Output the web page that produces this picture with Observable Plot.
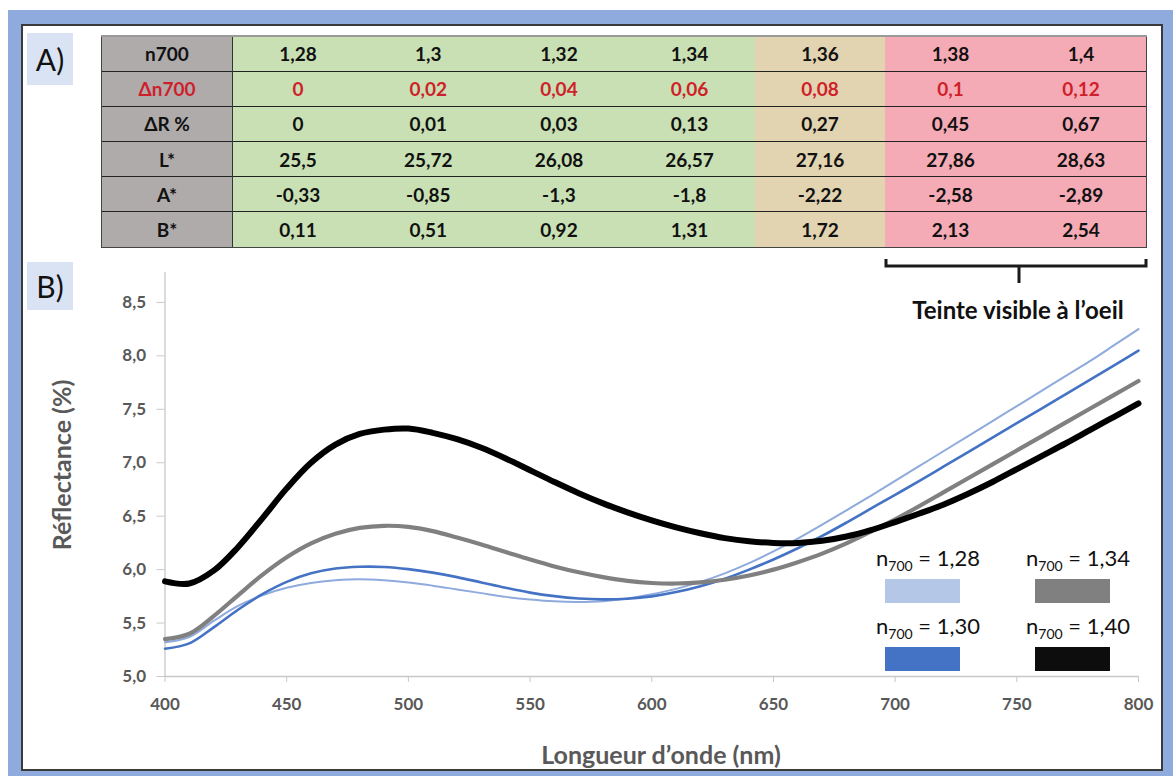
<!DOCTYPE html>
<html>
<head>
<meta charset="utf-8">
<script src="https://cdn.jsdelivr.net/npm/d3@7"></script>
<script src="https://cdn.jsdelivr.net/npm/@observablehq/plot@0.6"></script>
<style>
  html, body { margin:0; padding:0; background:#fff; }
  body { width:1173px; height:776px; overflow:hidden; position:relative; font-family: Lato, "Open Sans", sans-serif; }
  #frame { position:absolute; left:8px; top:10px; width:1165px; height:766px; background:#8FAADC; }
  #inner { position:absolute; left:21px; top:24px; width:1142px; height:747px; background:#fff; border:2px solid #3a3a3a; box-sizing:border-box; }
  .tag { position:absolute; left:27px; width:46px; background:#DAE3F3; font-size:30px; color:#111; display:flex; align-items:center; justify-content:center; }
  #tagA { top:33px; height:52px; }
  #tagB { top:262px; height:48px; }
  #tbl { position:absolute; left:101px; top:35px; width:1046px; border-collapse:collapse; table-layout:fixed; }
  #tbl td { height:35.2px; padding:0; text-align:center; font-weight:bold; font-size:19px; color:#111; border-top:1px solid #222; box-sizing:border-box; }
  #tbl tr:first-child td { border-top:2px solid #9a9a9a; }
  #tbl tr:last-child td { border-bottom:1.5px solid #444; }
  #tbl td.head { width:131px; background:#AFABAB; border-left:1.5px solid #444; border-right:1.5px solid #333; }
  #tbl td.z-invisible { background:#C8E0B4; }
  #tbl td.z-limite { background:#E2D3B1; }
  #tbl td.z-visible { background:#F5ABB6; }
  #tbl td.last { border-right:1.5px solid #444; }
  #tbl tr.red td { color:#CF1F2A; }
  #bracket { position:absolute; left:880px; top:255px; }
  #teinte { position:absolute; left:868px; width:300px; top:295px; text-align:center; font-weight:bold; font-size:24px; line-height:30px; color:#111; }
  #chart { position:absolute; left:20px; top:255px; }
  #ytitle { position:absolute; left:61px; top:465px; transform:translate(-50%,-50%) rotate(-90deg); white-space:nowrap; font-weight:bold; font-size:25px; color:#595959; }
  #xtitle { position:absolute; left:661px; top:754px; transform:translate(-50%,-50%); white-space:nowrap; font-weight:bold; font-size:25px; color:#595959; }
  #legend { position:absolute; left:870px; top:544px; display:grid; grid-template-rows:auto auto; grid-auto-flow:column; column-gap:46px; row-gap:9px; }
  .lg { display:flex; flex-direction:column; align-items:center; width:104px; }
  .lg .t { font-size:22px; color:#111; line-height:28px; white-space:nowrap; margin-left:12px; }
  .lg .t sub { font-size:14px; vertical-align:-5px; line-height:0; }
  .lg .sw { width:75px; height:24px; margin-top:7px; }
</style>
</head>
<body>
<div id="frame"></div>
<div id="inner"></div>
<div class="tag" id="tagA">A)</div>
<div class="tag" id="tagB">B)</div>
<table id="tbl"></table>
<svg id="bracket" width="280" height="32"><path d="M6,4 L6,11 L266,11 L266,4 M139,11 L139,28" fill="none" stroke="#1a1a1a" stroke-width="3"/></svg>
<div id="teinte">Teinte visible à l’oeil</div>
<div id="chart"></div>
<div id="ytitle">Réflectance (%)</div>
<div id="xtitle">Longueur d’onde (nm)</div>
<div id="legend"></div>
<script>
// ---------- Table data (panel A) ----------
const rowLabels = ["n700", "Δn700", "ΔR %", "L*", "A*", "B*"];
const n700      = ["1,28", "1,3", "1,32", "1,34", "1,36", "1,38", "1,4"];
const deltaN700 = ["0", "0,02", "0,04", "0,06", "0,08", "0,1", "0,12"];
const deltaR    = ["0", "0,01", "0,03", "0,13", "0,27", "0,45", "0,67"];
const Lstar     = ["25,5", "25,72", "26,08", "26,57", "27,16", "27,86", "28,63"];
const Astar     = ["-0,33", "-0,85", "-1,3", "-1,8", "-2,22", "-2,58", "-2,89"];
const Bstar     = ["0,11", "0,51", "0,92", "1,31", "1,72", "2,13", "2,54"];
const columnZone = ["invisible", "invisible", "invisible", "invisible", "limite", "visible", "visible"];

// ---------- Spectra data (panel B) ----------
const wavelength = [400,410,420,430,440,450,460,470,480,490,500,510,520,530,540,550,560,570,580,590,600,610,620,630,640,650,660,670,680,690,700,710,720,730,740,750,760,770,780,790,800];
const r128 = [5.32,5.37,5.52,5.66,5.76,5.83,5.875,5.90,5.91,5.90,5.88,5.85,5.815,5.78,5.745,5.72,5.703,5.698,5.705,5.73,5.77,5.82,5.885,5.965,6.06,6.17,6.29,6.42,6.555,6.69,6.83,6.97,7.11,7.25,7.39,7.53,7.67,7.81,7.95,8.10,8.25];
const r130 = [5.26,5.31,5.46,5.625,5.77,5.885,5.965,6.01,6.027,6.025,6.005,5.972,5.93,5.88,5.83,5.785,5.752,5.73,5.722,5.728,5.75,5.79,5.845,5.915,6.00,6.095,6.20,6.315,6.44,6.57,6.70,6.83,6.965,7.10,7.235,7.37,7.505,7.64,7.775,7.91,8.05];
const r134 = [5.35,5.40,5.565,5.76,5.95,6.115,6.245,6.335,6.39,6.41,6.40,6.36,6.30,6.235,6.165,6.095,6.03,5.975,5.93,5.895,5.875,5.87,5.88,5.905,5.945,6.00,6.07,6.15,6.245,6.355,6.47,6.595,6.725,6.855,6.985,7.115,7.245,7.375,7.505,7.635,7.765];
const r140 = [5.89,5.87,5.99,6.21,6.48,6.76,7.00,7.17,7.27,7.31,7.32,7.28,7.22,7.14,7.04,6.93,6.82,6.715,6.62,6.535,6.46,6.395,6.34,6.295,6.265,6.25,6.25,6.27,6.31,6.37,6.445,6.525,6.61,6.71,6.82,6.94,7.06,7.18,7.305,7.43,7.555];

const seriesLabels = ["1,28", "1,30", "1,34", "1,40"];
const seriesValues = [r128, r130, r134, r140];
const seriesColors = ["#8FAADC", "#4472C4", "#808080", "#000000"];
const swatchColors = ["#B4C7E7", "#4472C4", "#808080", "#0D0D0D"];
const seriesWidths = [2, 2.6, 4.2, 6];

const xTicks = [400, 450, 500, 550, 600, 650, 700, 750, 800];
const yTicks = [5.0, 5.5, 6.0, 6.5, 7.0, 7.5, 8.0, 8.5];

// ---------- Build table ----------
const tableRows = [n700, deltaN700, deltaR, Lstar, Astar, Bstar];
const tbl = document.getElementById("tbl");
tableRows.forEach((vals, r) => {
  const tr = document.createElement("tr");
  if (r === 1) tr.className = "red";
  const th = document.createElement("td");
  th.className = "head";
  th.textContent = rowLabels[r];
  tr.appendChild(th);
  vals.forEach((v, c) => {
    const td = document.createElement("td");
    td.className = "z-" + columnZone[c] + (c === vals.length - 1 ? " last" : "");
    td.textContent = v;
    tr.appendChild(td);
  });
  tbl.appendChild(tr);
});

// ---------- Chart ----------
const data = seriesLabels.flatMap((s, k) =>
  wavelength.map((w, i) => ({ w, r: seriesValues[k][i], s }))
);

const lineMarks = seriesLabels.map((s, k) =>
  Plot.line(data.filter(d => d.s === s), {
    x: "w", y: "r", stroke: seriesColors[k], strokeWidth: seriesWidths[k], curve: "catmull-rom"
  })
);

const chart = Plot.plot({
  width: 1140,
  height: 515,
  marginLeft: 144.5,
  marginRight: 22,
  marginTop: 17,
  marginBottom: 94,
  style: { fontFamily: "Lato, 'Open Sans', sans-serif", fontSize: "17px", fontWeight: "bold", color: "#595959", background: "transparent", overflow: "visible" },
  x: { domain: [400, 800] },
  y: { domain: [5, 8.78] },
  marks: [
    Plot.axisX({ ticks: xTicks, tickSize: 6, tickPadding: 15, stroke: "#C8C8C8", fill: "#595959", tickFormat: d => String(d), label: null }),
    Plot.axisY({ ticks: yTicks, tickSize: 8, tickPadding: 11, stroke: "#C8C8C8", fill: "#595959", tickFormat: d => d.toFixed(1).replace(".", ","), label: null }),
    Plot.ruleY([5], { stroke: "#C8C8C8", strokeWidth: 1.3 }),
    Plot.ruleX([400], { stroke: "#C8C8C8", strokeWidth: 1.3 }),
    ...lineMarks
  ]
});
document.getElementById("chart").appendChild(chart);

// ---------- Legend ----------
const legend = document.getElementById("legend");
seriesLabels.forEach((s, k) => {
  const item = document.createElement("div");
  item.className = "lg";
  const t = document.createElement("div");
  t.className = "t";
  t.innerHTML = "n<sub>700</sub> = " + s;
  const sw = document.createElement("div");
  sw.className = "sw";
  sw.style.background = swatchColors[k];
  item.appendChild(t);
  item.appendChild(sw);
  legend.appendChild(item);
});
</script>
</body>
</html>
